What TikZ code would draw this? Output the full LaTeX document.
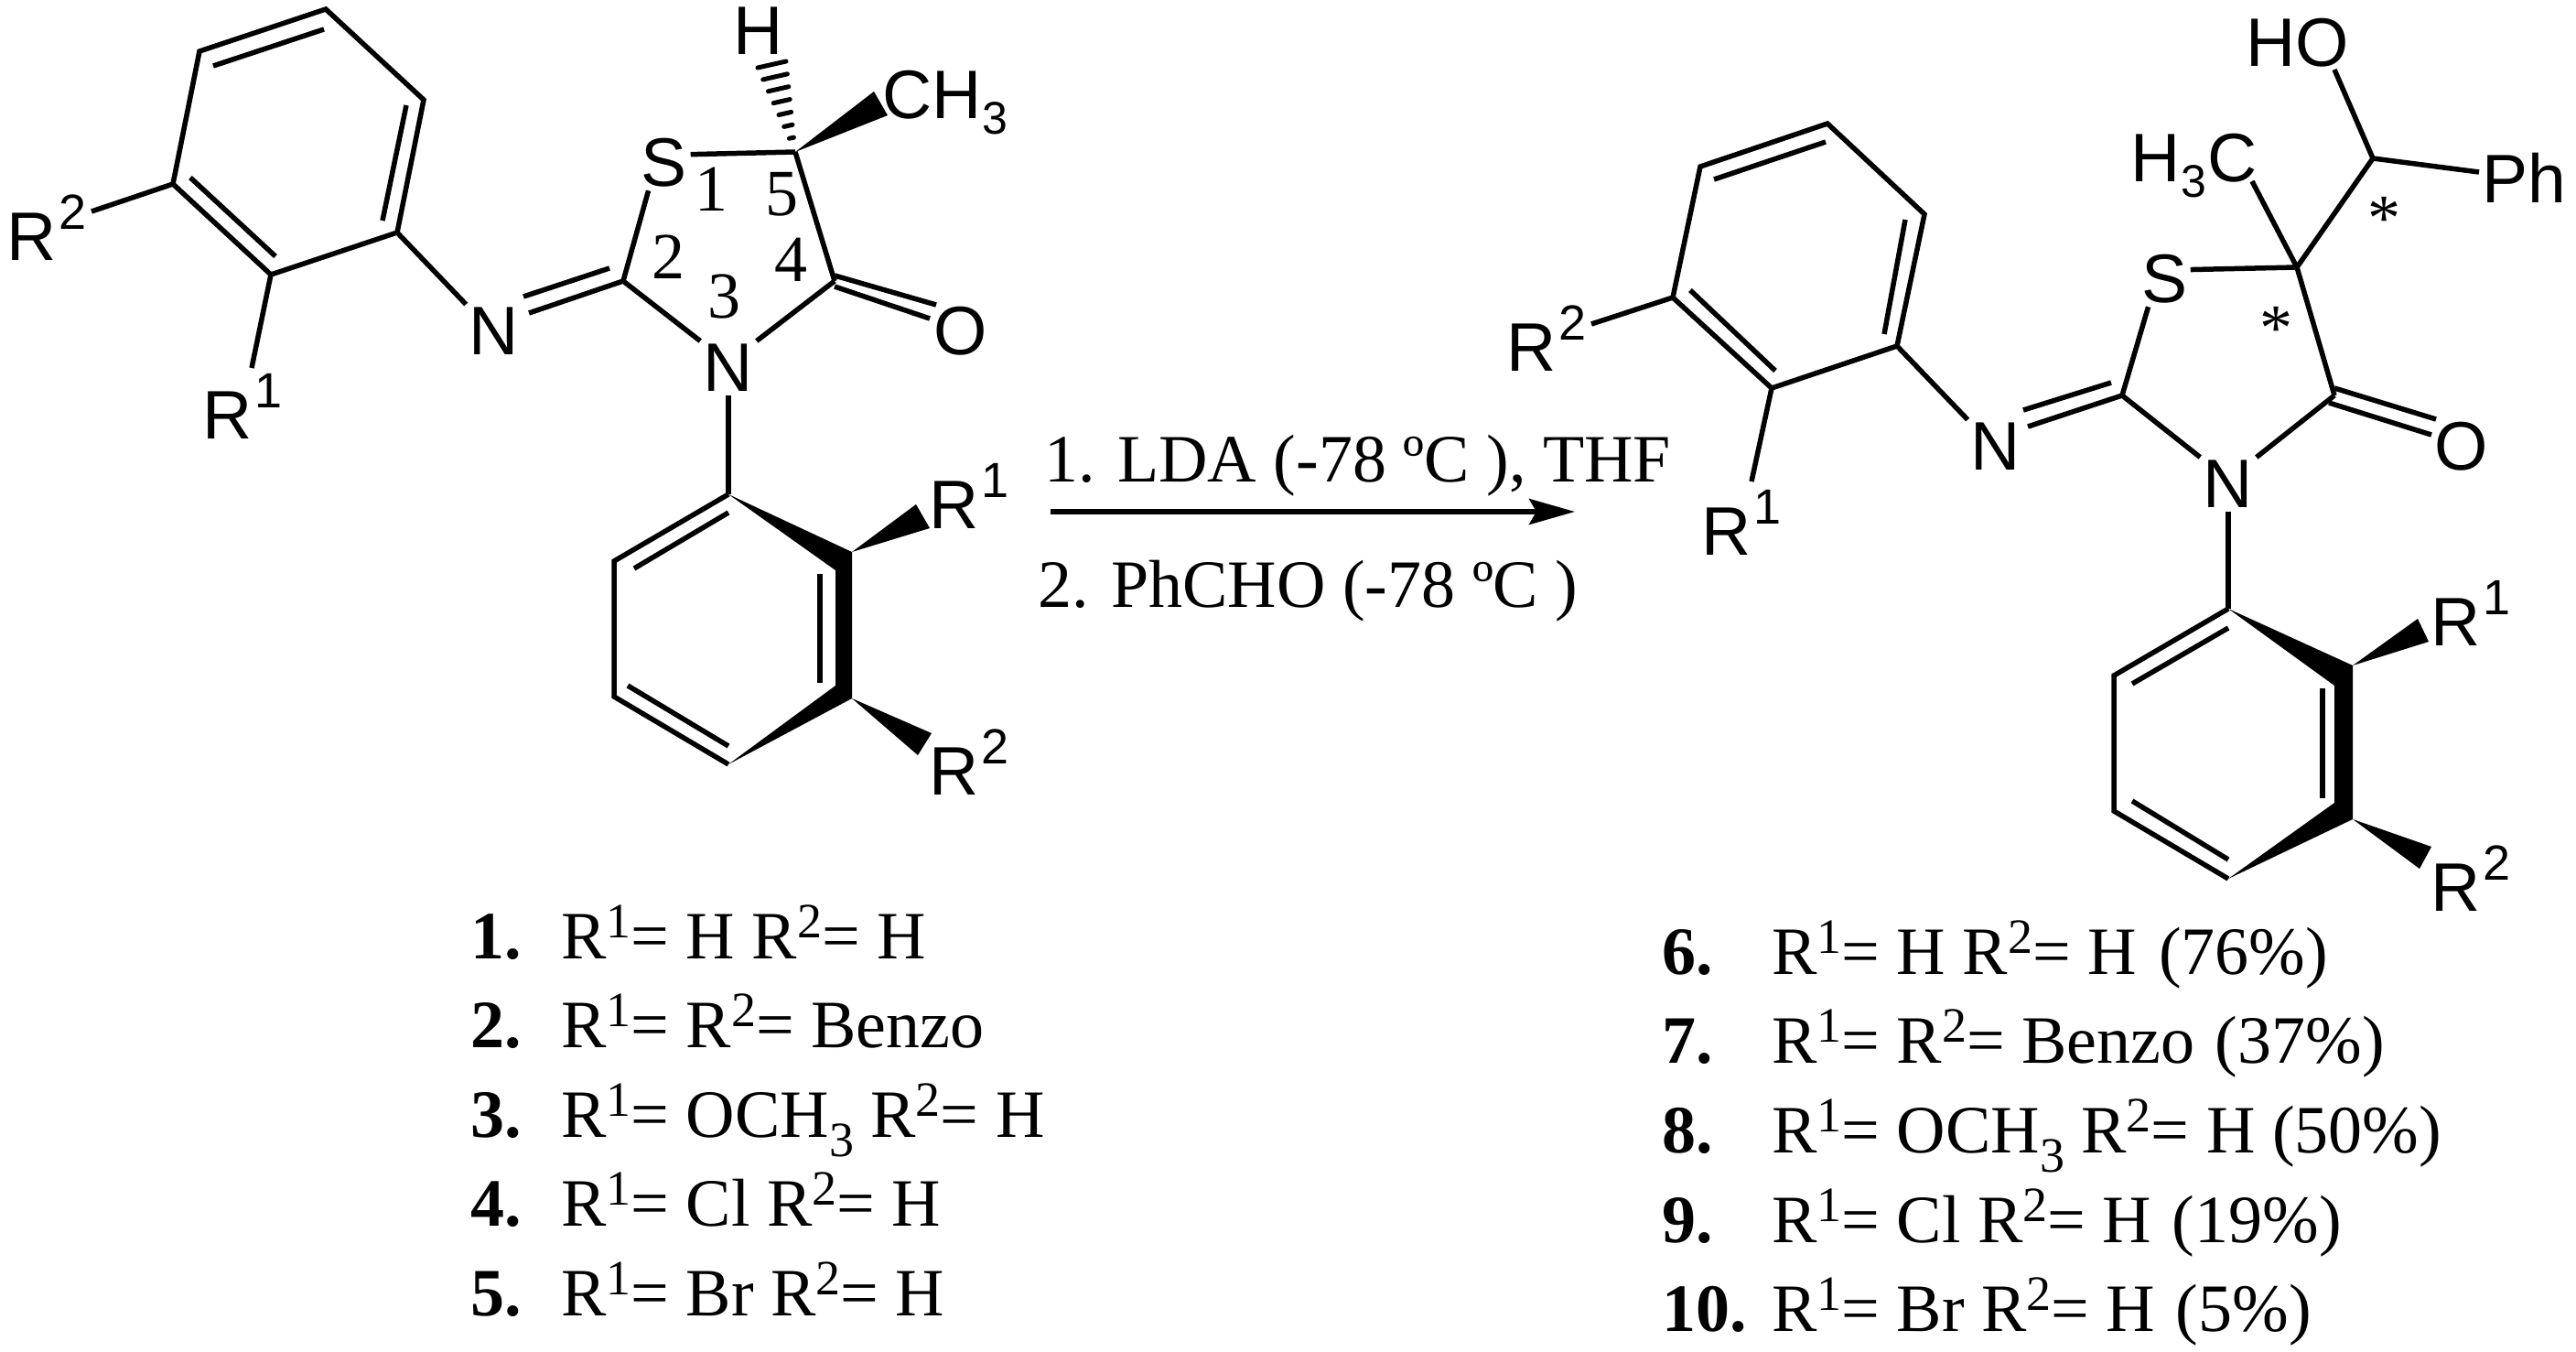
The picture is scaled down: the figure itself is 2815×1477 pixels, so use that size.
\documentclass[tikz,border=0pt]{standalone}
\usepackage{fontspec}
\setmainfont{Liberation Serif}
\setsansfont{Liberation Sans}
\usetikzlibrary{arrows.meta, calc}

\newcommand{\Rlab}[1]{R\kern3pt\raisebox{34pt}{\fontsize{54}{54}\selectfont #1}}
\newcommand{\Slab}{\kern1pt\raisebox{-17pt}{\fontsize{50}{50}\selectfont 3}\kern1pt}
\newcommand{\Rtxt}[1]{R\raisebox{23pt}{\fontsize{54}{54}\selectfont #1}}
\newcommand{\Stxt}{\raisebox{-21pt}{\fontsize{54}{54}\selectfont 3}}
\newcommand{\Cpd}[1]{\makebox[120pt][l]{\textbf{#1}}}
\newcommand{\CpdB}[1]{\makebox[99pt][l]{\textbf{#1}}}

\begin{document}
\begin{tikzpicture}[x=1pt, y=-1pt, >={Stealth[length=50pt, width=28pt, inset=8pt]},
    bond/.style={line width=5.5pt},
    hashline/.style={line width=5pt, line cap=round},
    atom/.style={font=\fontsize{75}{75}\selectfont\sffamily, inner sep=3.5pt},
    grouplab/.style={font=\fontsize{75}{75}\selectfont\sffamily, inner sep=0pt, anchor=base west},
    locant/.style={font=\fontsize{72}{72}\selectfont, inner sep=0pt},
    starmark/.style={font=\fontsize{72}{72}\selectfont, inner sep=0pt, anchor=base},
    txt/.style={font=\fontsize{74}{80}\selectfont, inner sep=0pt, anchor=base west}]
    \useasboundingbox (0,0) rectangle (2815,1477);

    \coordinate (aL) at (218,56);
    \coordinate (bL) at (356,10);
    \coordinate (cL) at (463,109);
    \coordinate (dL) at (434,254);
    \coordinate (eL) at (296,300);
    \coordinate (fL) at (189,201);
    \coordinate (c2L) at (681,307);
    \coordinate (c4L) at (912,307);
    \coordinate (c5L) at (869,166);
    \coordinate (gL) at (796,540);
    \coordinate (hL) at (671,613);
    \coordinate (iL) at (671,761);
    \coordinate (jL) at (796,835);

    \node (nimL) [atom] at (540,362) {N};
    \node (n3L) [atom] at (796,402) {N};
    \node (sL) [atom] at (726,178) {S};
    \node (oL) [atom] at (1050,362) {O};
    \node (hhL) [atom] at (829,34) {H};
    \node (ch3L) [grouplab] at (964,130) {CH\Slab};
    \node (r2aL) [grouplab] at (7,284) {\Rlab{2}};
    \node (r1aL) [grouplab] at (221,479) {\Rlab{1}};
    \node (r1bL) [grouplab] at (1015,577) {\Rlab{1}};
    \node (r2bL) [grouplab] at (1015,868) {\Rlab{2}};

    \node (p1L) [locant] at (777,207) {1};
    \node (p2L) [locant] at (730,281) {2};
    \node (p3L) [locant] at (791,324) {3};
    \node (p4L) [locant] at (864,284) {4};
    \node (p5L) [locant] at (854,212) {5};

    \draw[bond] (aL) -- (bL) -- (cL) -- (dL) -- (eL) -- (fL) -- cycle;
    \draw[bond] (233,72) -- (354,32);
    \draw[bond] (444,115) -- (418,241);
    \draw[bond] (208,194) -- (301,280);
    \coordinate (r2endL) at (100,231);
    \coordinate (r1endL) at (275,402);
    \draw[bond] (fL) -- (r2endL);
    \draw[bond] (eL) -- (r1endL);
    \draw[bond] (dL) -- (nimL.north west);
    \draw[bond] (c2L) -- (578,342);
    \draw[bond] (666,293) -- (572,324);
    \draw[bond] (c2L) -- (sL.240);
    \draw[bond] (sL.18) -- (c5L);
    \draw[bond] (c5L) -- (c4L);
    \draw[bond] (c2L) -- (n3L.north west);
    \draw[bond] (n3L.north east) -- (c4L);
    \draw[bond] (912,301) -- (1023,333);
    \draw[bond] (912,313) -- (1016,348);
    \draw[bond] (n3L.south) -- (gL);
    \fill (c5L) -- (955,100) -- (970,126) -- cycle;
    \foreach \t in {1,0.86,0.72,0.58,0.44,0.30,0.16}
        \draw[hashline] ($(c5L)!\t!(828,74)$) -- ($(c5L)!\t!(859,67)$);

    \draw[bond] (gL) -- (hL) -- (iL) -- (jL);
    \draw[bond] (796,560) -- (693,621);
    \draw[bond] (686,749) -- (796,815);
    \draw[bond] (896,627) -- (896,746);
    \fill (gL) -- (931,603) -- (931,763) -- (jL) -- (913,749) -- (913,623) -- cycle;
    \fill (931,603) -- (1001,551) -- (1016,577) -- cycle;
    \fill (931,763) -- (1018,801) -- (1003,825) -- cycle;

    \coordinate (aR) at (1858,182);
    \coordinate (bR) at (1997,135);
    \coordinate (cR) at (2103,234);
    \coordinate (dR) at (2073,378);
    \coordinate (eR) at (1936,424);
    \coordinate (fR) at (1828,325);
    \coordinate (c2R) at (2319,432);
    \coordinate (c4R) at (2551,432);
    \coordinate (c5R) at (2510,292);
    \coordinate (choh) at (2593,173);
    \coordinate (gR) at (2435,665);
    \coordinate (hR) at (2310,738);
    \coordinate (iR) at (2310,886);
    \coordinate (jR) at (2435,960);

    \node (nimR) [atom] at (2181,488) {N};
    \node (n3R) [atom] at (2435,529) {N};
    \node (sR) [atom] at (2365,305) {S};
    \node (oR) [atom] at (2690,488) {O};
    \node (hoR) [grouplab] at (2454,73) {HO};
    \node (phR) [grouplab] at (2712,221) {Ph};
    \node (h3cR) [grouplab] at (2328,198) {H\Slab C};
    \node (r2aR) [grouplab] at (1646,405) {\Rlab{2}};
    \node (r1aR) [grouplab] at (1859,606) {\Rlab{1}};
    \node (r1bR) [grouplab] at (2656,705) {\Rlab{1}};
    \node (r2bR) [grouplab] at (2656,995) {\Rlab{2}};
    \node (star1) [starmark] at (2605,262) {*};
    \node (star2) [starmark] at (2487,382) {*};

    \draw[bond] (aR) -- (bR) -- (cR) -- (dR) -- (eR) -- (fR) -- cycle;
    \draw[bond] (1873,196) -- (1995,155);
    \draw[bond] (2082,240) -- (2059,365);
    \draw[bond] (1847,317) -- (1940,405);
    \coordinate (r2endR) at (1739,354);
    \coordinate (r1endR) at (1914,526);
    \draw[bond] (fR) -- (r2endR);
    \draw[bond] (eR) -- (r1endR);
    \draw[bond] (dR) -- (nimR.north west);
    \draw[bond] (c2R) -- (2216,466);
    \draw[bond] (2307,418) -- (2211,448);
    \draw[bond] (c2R) -- (sR.240);
    \draw[bond] (sR.20) -- (c5R);
    \draw[bond] (c5R) -- (c4R);
    \draw[bond] (c2R) -- (n3R.north west);
    \draw[bond] (n3R.north east) -- (c4R);
    \draw[bond] (2551,424) -- (2662,458);
    \draw[bond] (2545,440) -- (2657,475);
    \draw[bond] (n3R.south) -- (gR);
    \coordinate (h3cend) at (2461,198);
    \coordinate (hoend) at (2551,76);
    \coordinate (phend) at (2709,188);
    \draw[bond] (c5R) -- (h3cend);
    \draw[bond] (c5R) -- (choh);
    \draw[bond] (choh) -- (hoend);
    \draw[bond] (choh) -- (phend);

    \draw[bond] (gR) -- (hR) -- (iR) -- (jR);
    \draw[bond] (2435,686) -- (2330,747);
    \draw[bond] (2330,875) -- (2435,939);
    \draw[bond] (2538,752) -- (2538,872);
    \fill (gR) -- (2571,727) -- (2571,895) -- (jR) -- (2551,877) -- (2551,749) -- cycle;
    \fill (2571,727) -- (2642,676) -- (2654,701) -- cycle;
    \fill (2571,895) -- (2657,925) -- (2644,949) -- cycle;

    \coordinate (arrowstart) at (1148,559);
    \coordinate (arrowend) at (1721,559);
    \draw[bond, ->] (arrowstart) -- (arrowend);
    \node (lda) [txt] at (1141,526) {1. LDA (-78 ºC ), THF};
    \node (phcho) [txt] at (1134,663) {2. PhCHO (-78 ºC )};

    \node (cpd1) [txt] at (514,1047) {\CpdB{1.}\Rtxt{1}= H \Rtxt{2}= H};
    \node (cpd2) [txt] at (514,1144) {\CpdB{2.}\Rtxt{1}= \Rtxt{2}= Benzo};
    \node (cpd3) [txt] at (514,1242) {\CpdB{3.}\Rtxt{1}= OCH\Stxt\ \Rtxt{2}= H};
    \node (cpd4) [txt] at (514,1339) {\CpdB{4.}\Rtxt{1}= Cl \Rtxt{2}= H};
    \node (cpd5) [txt] at (514,1437) {\CpdB{5.}\Rtxt{1}= Br \Rtxt{2}= H};
    \node (cpd6) [txt] at (1816,1064) {\Cpd{6.}\Rtxt{1}= H \Rtxt{2}= H\kern6pt{} (76\%)};
    \node (cpd7) [txt] at (1816,1161) {\Cpd{7.}\Rtxt{1}= \Rtxt{2}= Benzo\kern4pt{} (37\%)};
    \node (cpd8) [txt] at (1816,1259) {\Cpd{8.}\Rtxt{1}= OCH\Stxt\ \Rtxt{2}= H (50\%)};
    \node (cpd9) [txt] at (1816,1357) {\Cpd{9.}\Rtxt{1}= Cl \Rtxt{2}= H\kern4pt{} (19\%)};
    \node (cpd10) [txt] at (1816,1454) {\Cpd{10.}\Rtxt{1}= Br \Rtxt{2}= H\kern4pt{} (5\%)};
\end{tikzpicture}
\end{document}
